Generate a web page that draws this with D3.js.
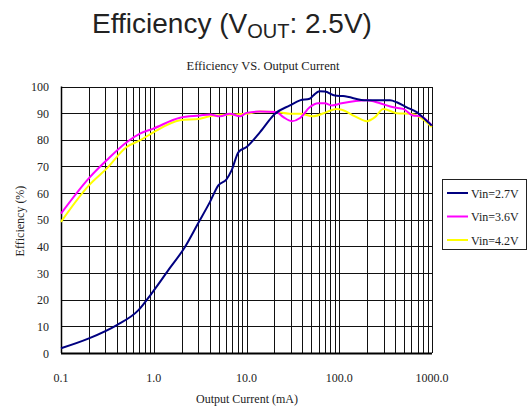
<!DOCTYPE html>
<html>
<head>
<meta charset="utf-8">
<script src="https://cdn.jsdelivr.net/npm/d3@7"></script>
<style>
  body { margin: 0; background: #fff; }
  svg text { fill: #222; }
  .tick_lbl { font-family: "Liberation Serif", "DejaVu Serif", serif; font-size: 12px; }
  .grid line { stroke: #111; stroke-width: 1; shape-rendering: crispEdges; }
</style>
</head>
<body>
<svg></svg>
<script>
// board size
var svg_w = 532, svg_h = 413;
var pad_left = 61, pad_right = 100, pad_top = 86, pad_bottom = 60;

// data (x = output current mA, y = efficiency %)
var series_names = ["Vin=2.7V", "Vin=3.6V", "Vin=4.2V"];
var series_colors = ["#000080", "#ff00ff", "#ffff00"];

var i_27 = [0.1, 0.2, 0.4, 0.68, 0.95, 1.43, 2.17, 3.0, 4.04, 4.97, 6.1, 6.9, 8.2, 10, 14, 20.3, 29.4, 37.7, 48, 52.5, 61, 70, 90, 110, 198, 352, 417, 534, 684, 806, 993];
var e_27 = [1.8, 5.5, 10.5, 16, 22.4, 31, 39.8, 48.6, 56.7, 62.9, 65.2, 68.5, 75.4, 77.3, 82.9, 89.8, 92.9, 94.8, 95.4, 96.6, 98.2, 98.1, 96.6, 96.4, 94.8, 94.8, 94.1, 92.2, 90.4, 88.3, 85.4];

var i_36 = [0.1, 0.205, 0.31, 0.51, 0.71, 0.99, 1.92, 3.15, 4.04, 5.2, 6.6, 8.5, 10, 14, 21, 25, 30.7, 37.8, 48, 59, 70, 83, 106, 198, 275, 383, 490, 628, 741, 993];
var e_36 = [52.3, 66, 72.3, 79.1, 82.3, 84.2, 88.3, 89.1, 89.5, 88.8, 89.8, 88.8, 90.1, 90.6, 90.4, 88.5, 87, 88.2, 92.2, 93.7, 93.7, 92.9, 93.7, 94.8, 93.7, 92.2, 91.6, 89.1, 88.9, 85.4];

var i_42 = [0.1, 0.2, 0.31, 0.51, 0.71, 1.0, 1.92, 3.15, 4.0, 7.2, 10, 14, 21, 29, 38, 52, 73, 93, 106, 148, 198, 243, 298, 417, 580, 741, 993];
var e_42 = [49.2, 62.9, 69.2, 77.3, 79.8, 82.9, 87.3, 87.9, 88.8, 89.5, 89.8, 90.6, 90.4, 89.8, 89.8, 88.8, 90.4, 91.6, 91.3, 88.8, 87, 88.5, 91.6, 90, 89.8, 88.5, 84.8];

var x_ticks = [0.1, 1, 10, 100, 1000];
var x_tick_labels = ["0.1", "1.0", "10.0", "100.0", "1000.0"];
var y_ticks = [0, 10, 20, 30, 40, 50, 60, 70, 80, 90, 100];

var svg = d3.select("svg").attr("width", svg_w).attr("height", svg_h);

var x_scale = d3.scaleLog().domain([0.1, 1000]).range([pad_left, 432]);
var y_scale = d3.scaleLinear().domain([0, 100]).range([svg_h - pad_bottom, pad_top + 0.5]);
var x0 = x_scale.range()[0], x1 = x_scale.range()[1];
var y0 = y_scale.range()[0], y1 = y_scale.range()[1];

// minor + major vertical grid
var v_lines = [];
for (var dec = 0.1; dec < 1000; dec *= 10) {
  for (var k = 1; k <= 10; k++) v_lines.push(dec * k);
}
var grid = svg.append("g").attr("class", "grid");
grid.selectAll(".vl").data(v_lines).enter().append("line")
  .attr("x1", function(d){ return Math.round(x_scale(d)) + 0.5; })
  .attr("x2", function(d){ return Math.round(x_scale(d)) + 0.5; })
  .attr("y1", y1).attr("y2", y0);
grid.selectAll(".hl").data(y_ticks).enter().append("line")
  .attr("x1", x0).attr("x2", x1)
  .attr("y1", function(d){ return Math.round(y_scale(d)) + 0.5; })
  .attr("y2", function(d){ return Math.round(y_scale(d)) + 0.5; });

// axes frame
svg.append("line").attr("x1", x0).attr("x2", x1).attr("y1", y0 + 0.5).attr("y2", y0 + 0.5)
  .attr("stroke", "#000").attr("stroke-width", 2);
svg.append("line").attr("x1", x0 + 0.5).attr("x2", x0 + 0.5).attr("y1", y1).attr("y2", y0)
  .attr("stroke", "#000").attr("stroke-width", 1.5);

// tick labels
svg.append("g").selectAll("text").data(y_ticks).enter().append("text")
  .attr("class", "tick_lbl").attr("text-anchor", "end")
  .attr("x", 49).attr("y", function(d){ return y_scale(d) + 4.5; })
  .text(function(d){ return d; });
svg.append("g").selectAll("text").data(x_ticks).enter().append("text")
  .attr("class", "tick_lbl").attr("text-anchor", "middle")
  .attr("x", function(d){ return x_scale(d); }).attr("y", 382)
  .text(function(d, i){ return x_tick_labels[i]; });

// axis titles
svg.append("text").attr("class", "tick_lbl").attr("text-anchor", "middle")
  .attr("x", 247).attr("y", 403).text("Output Current (mA)");
svg.append("text").attr("class", "tick_lbl").attr("text-anchor", "middle")
  .attr("transform", "translate(24,221) rotate(-90)").text("Efficiency (%)");

// titles
var title = svg.append("text").attr("x", 232).attr("y", 33).attr("text-anchor", "middle")
  .style("font-family", "Liberation Sans, Arial, sans-serif").style("font-size", "28px");
title.append("tspan").text("Efficiency (V");
title.append("tspan").attr("dy", 5).style("font-size", "20px").text("OUT");
title.append("tspan").attr("dy", -5).text(": 2.5V)");
svg.append("text").attr("class", "tick_lbl").attr("text-anchor", "middle")
  .attr("x", 263).attr("y", 70).style("font-size", "12.5px").text("Efficiency VS. Output Current");

// curves
var line_gen = d3.line().curve(d3.curveMonotoneX)
  .x(function(d){ return x_scale(d[0]); })
  .y(function(d){ return y_scale(d[1]); });
var series_data = [d3.zip(i_27, e_27), d3.zip(i_36, e_36), d3.zip(i_42, e_42)];
// draw yellow first so navy sits on top
[2, 1, 0].forEach(function(s){
  svg.append("path").datum(series_data[s])
    .attr("fill", "none").attr("stroke", series_colors[s]).attr("stroke-width", 2)
    .attr("d", line_gen);
});

// legend
var lg = svg.append("g").attr("transform", "translate(442,179)");
lg.append("rect").attr("x", 0.5).attr("y", 0.5).attr("width", 84).attr("height", 70)
  .attr("fill", "#fff").attr("stroke", "#222").attr("stroke-width", 1);
series_names.forEach(function(n, i){
  var yy = 14 + i * 23.5;
  lg.append("line").attr("x1", 5).attr("x2", 26).attr("y1", yy).attr("y2", yy)
    .attr("stroke", series_colors[i]).attr("stroke-width", 2);
  lg.append("text").attr("class", "tick_lbl").attr("x", 29).attr("y", yy + 4.5).text(n);
});
</script>
</body>
</html>
